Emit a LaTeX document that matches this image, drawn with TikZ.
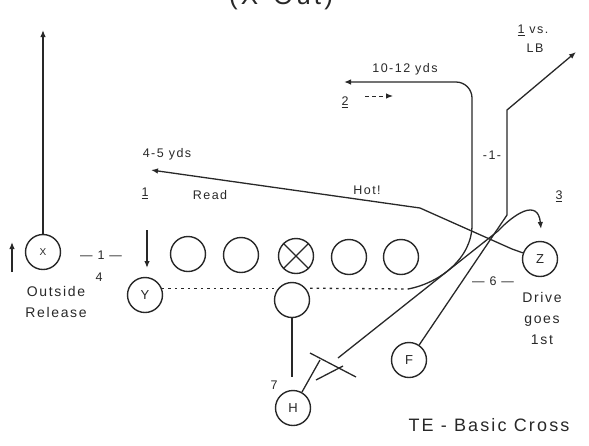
\documentclass[tikz,border=0pt]{standalone}
\usepackage{fontspec}
\setmainfont{Liberation Sans}[LetterSpace=12]
\usetikzlibrary{arrows.meta}
\definecolor{ink}{HTML}{282828}

\begin{document}
\begin{tikzpicture}[x=1pt, y=-1pt,
    player/.style={circle, draw=ink, line width=1.4pt, fill=white, minimum size=35pt,
        inner sep=0pt, text=ink, font=\fontsize{13}{13}\selectfont},
    route/.style={draw=ink, line width=1.3pt},
    tip/.style={-{Latex[length=7pt,width=5.5pt]}},
    dotline/.style={route, dash pattern=on 2.5pt off 4pt},
    lbl/.style={text=ink, inner sep=0pt, font=\fontsize{14}{21}\selectfont, align=center},
    small/.style={text=ink, inner sep=0pt, font=\fontsize{12.5}{14}\selectfont}
]
\useasboundingbox (0,0) rectangle (589,445);

% Title, cut off at the top
\begin{scope}
\clip (0,0) rectangle (589,445);
\node[text=ink, inner sep=0pt, anchor=base, font=\fontsize{26}{26}\selectfont] (title) at (281,4) {(X-Out)};
\end{scope}

% Line
\node[player] (LT) at (188,254) {};
\node[player] (LG) at (241,255) {};
\node[player] (C) at (296,256) {};
\node[player] (RG) at (349,257) {};
\node[player] (RT) at (401,257) {};
\draw[route] (C.45) -- (C.225) (C.135) -- (C.315);

% Backs and ends
\node[player, font=\fontsize{10}{10}\selectfont] (X) at (43,252) {X};
\node[player] (Y) at (145,295) {Y};
\node[player] (B) at (292,300) {};
\node[player] (H) at (293,408) {H};
\node[player] (F) at (409,360) {F};
\node[player] (Z) at (540,259) {Z};

% X
\coordinate (xtop) at (43,30);
\coordinate (xm0) at (12,272);
\coordinate (xm1) at (12,242);
\draw[route, tip] (X) -- (xtop);
\draw[route, tip] (xm0) -- (xm1);

% Y motion and drag
\coordinate (ym0) at (147,230);
\coordinate (ym1) at (147,268);
\draw[route, tip] (ym0) -- (ym1);
\coordinate (y1) at (408,289);
\coordinate (y2) at (472,225);
\coordinate (y3) at (472,82);
\coordinate (y4) at (344,82);
\draw[dotline] (Y.22) -- (B.west |- Y.22);
\draw[dotline] (B.east |- Y.22) -- (y1);
\draw[route, tip] (y1) .. controls (440,283) and (472,258) .. (y2)
    [rounded corners=16pt] -- (y3) -- (y4);
\coordinate (d2a) at (365,96);
\coordinate (d2b) at (393,96);
\draw[route, line width=1pt, dash pattern=on 4pt off 3pt, tip] (d2a) -- (d2b);

% F
\coordinate (f1) at (507,215);
\coordinate (f2) at (507,110);
\coordinate (f3) at (576,52);
\draw[route, tip] (F) -- (f1) -- (f2) -- (f3);

% H
\coordinate (h1) at (320,360);
\coordinate (h2) at (316,380);
\coordinate (h3) at (343,366);
\coordinate (h4) at (310,353);
\coordinate (h5) at (356,377);
\coordinate (h6) at (338,358);
\coordinate (h7) at (498,231);
\coordinate (h8) at (541,229);
\draw[route] (H) -- (h1);
\draw[route] (h2) -- (h3);
\draw[route] (h4) -- (h5);
\draw[route, tip] (h6) -- (h7) .. controls (514,214) and (538,198) .. (h8);

% Z
\coordinate (z1) at (512,249);
\coordinate (z2) at (420,208);
\coordinate (z3) at (151,170);
\draw[route, tip] (Z) -- (z1) -- (z2) -- (z3);

% B
\coordinate (b1) at (292,377);
\draw[route] (B) -- (b1);

% Labels
\node[small] (yds45) at (167,154) {4-5 yds};
\node[small] (one) at (145,193) {\underline{1}};
\node[small] (read) at (210,195) {Read};
\node[small] (hot) at (367,190) {Hot!};
\node[small] (yds1012) at (405,69) {10-12 yds};
\node[small] (two) at (345,102) {\underline{2}};
\node[small] (vs) at (533,30) {\underline{1} vs.};
\node[small] (lb) at (535,48) {LB};
\node[small] (gap) at (492,155) {-1-};
\node[small] (three) at (559,196) {\underline{3}};
\node[small] (six) at (493,281) {--- 6 ---};
\node[small] (splitx) at (101,255) {--- 1 ---};
\node[small] (four) at (99,277) {4};
\node[lbl] (outside) at (56,302) {Outside\\Release};
\node[lbl] (drive) at (542,318) {Drive\\goes\\1st};
\node[small] (seven) at (274,385) {7};
\node[text=ink, inner sep=0pt, font=\fontsize{18}{18}\selectfont] (name) at (489,425) {TE - Basic Cross};

\end{tikzpicture}
\end{document}
